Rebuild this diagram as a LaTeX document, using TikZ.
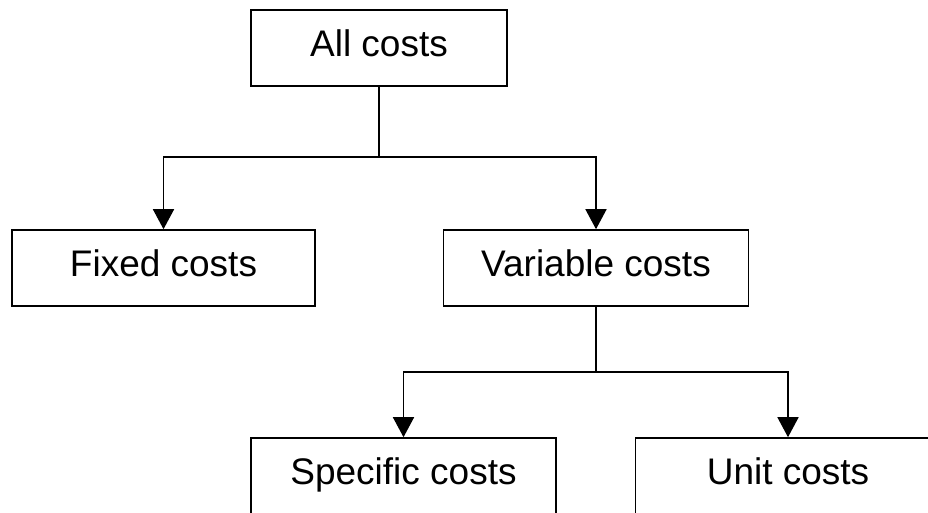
\documentclass[tikz,border=0pt]{standalone}
\usepackage{fontspec}
\setmainfont{Liberation Sans}
\usetikzlibrary{arrows.meta}
\begin{document}
\begin{tikzpicture}[x=1pt,y=-1pt,
  costbox/.style={draw=black,line width=1.6pt,minimum height=76pt,inner sep=0pt,
    font=\fontsize{37}{40}\selectfont,text height=27pt,text depth=10pt},
  link/.style={draw=black,line width=1.6pt,-{Triangle[width=21pt,length=20pt]}},
  plain/.style={draw=black,line width=1.6pt}]
\useasboundingbox (0,0) rectangle (928,513);
\node[costbox,minimum width=256pt] (all) at (379,48) {All costs};
\node[costbox,minimum width=303pt] (fixed) at (163.5,268) {Fixed costs};
\node[costbox,minimum width=305pt] (var) at (596,268) {Variable costs};
\node[costbox,minimum width=305pt] (spec) at (403.5,476) {Specific costs};
\node[costbox,minimum width=305pt] (unit) at (788,476) {Unit costs};
\coordinate (j1) at (379,157);
\coordinate (j2) at (596,372);
\draw[plain] (all.south) -- (j1);
\draw[link] (j1) -| (fixed.north);
\draw[link] (j1) -| (var.north);
\draw[plain] (var.south) -- (j2);
\draw[link] (j2) -| (spec.north);
\draw[link] (j2) -| (unit.north);
\end{tikzpicture}
\end{document}
